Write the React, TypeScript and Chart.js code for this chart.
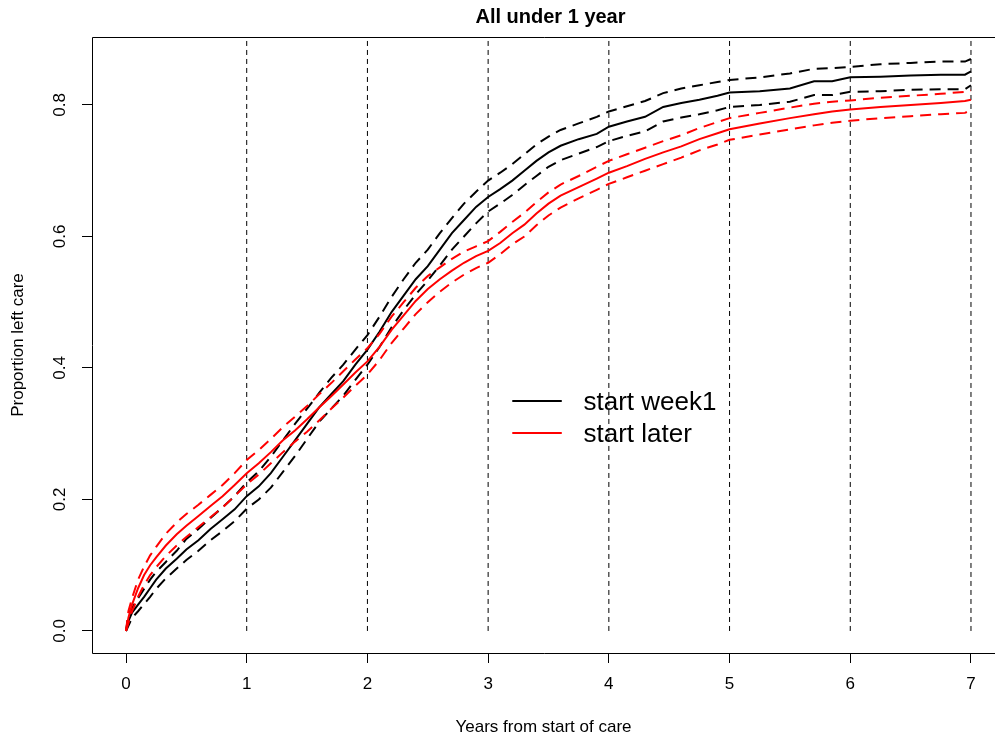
import React, { useEffect, useRef } from "react";
import { Chart, registerables } from "chart.js";

Chart.register(...registerables);

// ---------- data ----------
const TIMES = [
  0, 0.02, 0.05, 0.1, 0.15, 0.2, 0.25, 0.33, 0.42,
  0.5, 0.6, 0.7, 0.8, 0.9,
  1.0, 1.1, 1.2, 1.3, 1.4, 1.5, 1.6, 1.7, 1.8, 1.9,
  2.0, 2.1, 2.2, 2.3, 2.4, 2.5, 2.6, 2.7, 2.8, 2.9,
  3.0, 3.1, 3.2, 3.3, 3.4, 3.5, 3.6,
  3.75, 3.9,
  4.0, 4.15, 4.3, 4.45, 4.6, 4.75, 4.9,
  5.0, 5.25, 5.5, 5.7, 5.85,
  6.0, 6.25, 6.5, 6.75, 6.95, 7.0,
];

const WEEK1 = [
  0, 0.015, 0.028, 0.04, 0.052, 0.065, 0.078, 0.095, 0.11,
  0.124, 0.138, 0.155, 0.17, 0.185,
  0.205, 0.22, 0.24, 0.265, 0.29, 0.315, 0.34, 0.36, 0.38, 0.405,
  0.428, 0.455, 0.485, 0.51, 0.535, 0.555, 0.58, 0.605, 0.625, 0.645,
  0.66, 0.672, 0.685, 0.7, 0.715, 0.728, 0.738,
  0.748, 0.756,
  0.767, 0.775, 0.782, 0.797, 0.803, 0.808, 0.814,
  0.819, 0.821, 0.825, 0.836, 0.836,
  0.842, 0.843, 0.845, 0.846, 0.846, 0.851,
];

const WEEK1_UPPER = [
  0, 0.025, 0.035, 0.05, 0.064, 0.078, 0.09, 0.105, 0.122,
  0.14, 0.155, 0.172, 0.188, 0.205,
  0.226, 0.243, 0.265, 0.29, 0.315, 0.338, 0.362, 0.385, 0.405, 0.428,
  0.45, 0.478, 0.508, 0.535, 0.56, 0.58, 0.605, 0.628, 0.65, 0.668,
  0.685, 0.697, 0.71, 0.725, 0.74, 0.752, 0.762,
  0.772, 0.782,
  0.79, 0.798, 0.806, 0.818, 0.825, 0.83, 0.835,
  0.838, 0.842, 0.848, 0.855, 0.856,
  0.858, 0.862, 0.864, 0.866, 0.866, 0.87,
];

const WEEK1_LOWER = [
  0, 0.008, 0.02, 0.03, 0.041, 0.052, 0.064, 0.08, 0.095,
  0.108, 0.122, 0.138, 0.152, 0.167,
  0.186, 0.2, 0.218, 0.242, 0.266, 0.292, 0.318, 0.338, 0.358, 0.382,
  0.405, 0.432, 0.462, 0.488, 0.512, 0.533, 0.556, 0.58, 0.6, 0.62,
  0.638, 0.65, 0.663, 0.678, 0.692, 0.706, 0.716,
  0.726, 0.736,
  0.745, 0.753, 0.76, 0.775, 0.781, 0.786, 0.792,
  0.797, 0.8, 0.805, 0.815, 0.815,
  0.82, 0.821, 0.823, 0.824, 0.824, 0.83,
];

const LATER = [
  0, 0.02, 0.04, 0.065, 0.085, 0.1, 0.112, 0.13, 0.147,
  0.16, 0.175, 0.19, 0.205, 0.222,
  0.24, 0.255, 0.272, 0.29, 0.305, 0.322, 0.34, 0.357, 0.375, 0.393,
  0.41, 0.432, 0.458, 0.48, 0.502, 0.52, 0.535, 0.548, 0.56, 0.57,
  0.578, 0.59, 0.605, 0.618, 0.635, 0.65, 0.662,
  0.675, 0.688,
  0.697, 0.707, 0.718, 0.728, 0.737, 0.748, 0.757,
  0.763, 0.772, 0.78, 0.786, 0.79,
  0.793, 0.797, 0.8, 0.803, 0.806, 0.808,
];

const LATER_UPPER = [
  0, 0.03, 0.05, 0.078, 0.098, 0.115, 0.128, 0.148, 0.165,
  0.178, 0.192, 0.207, 0.222, 0.24,
  0.26, 0.275, 0.292, 0.31, 0.326, 0.342, 0.36, 0.377, 0.395, 0.413,
  0.43, 0.452, 0.478, 0.5, 0.522, 0.54, 0.553, 0.566, 0.577, 0.585,
  0.593, 0.607, 0.622, 0.636, 0.652, 0.667, 0.679,
  0.692, 0.706,
  0.715, 0.725, 0.735, 0.745, 0.754, 0.765, 0.774,
  0.78, 0.788, 0.796, 0.802, 0.805,
  0.807, 0.811, 0.814, 0.817, 0.82, 0.822,
];

const LATER_LOWER = [
  0, 0.012, 0.03, 0.052, 0.07, 0.085, 0.097, 0.114, 0.13,
  0.143, 0.158, 0.173, 0.188, 0.205,
  0.223, 0.238, 0.255, 0.272, 0.288, 0.303, 0.32, 0.338, 0.355, 0.373,
  0.39, 0.412, 0.438, 0.46, 0.482, 0.5, 0.516, 0.53, 0.542, 0.552,
  0.56, 0.573, 0.588, 0.6, 0.617, 0.632, 0.644,
  0.658, 0.671,
  0.68, 0.69, 0.7, 0.71, 0.72, 0.731, 0.74,
  0.747, 0.755, 0.763, 0.769, 0.773,
  0.776, 0.78, 0.783, 0.786, 0.788, 0.792,
];

const X_TICKS = [0, 1, 2, 3, 4, 5, 6, 7];
const Y_TICKS = [0, 0.2, 0.4, 0.6, 0.8];
const REF_LINES = [1, 2, 3, 4, 5, 6, 7];
const SERIES_LABELS = ["start week1", "start later"];
const SERIES_COLORS = ["#000000", "#ff0000"];

const TITLE = "All under 1 year";
const X_TITLE = "Years from start of care";
const Y_TITLE = "Proportion left care";

// visible axis window (the plot region runs past the right edge of the image)
const X_MIN = -0.2817;
const X_MAX = 7.199;
const Y_MIN = -0.0335;
const Y_MAX = 0.9034;

const FONT = "'Liberation Sans', Arial, Helvetica, sans-serif";

export default function App() {
  const ref = useRef<HTMLCanvasElement | null>(null);

  useEffect(() => {
    if (!ref.current) return;
    const pts = (ys: number[]) => TIMES.map((t, i) => ({ x: t, y: ys[i] }));
    const curve = (ys: number[], color: string, dashed: boolean) => ({
      data: pts(ys),
      borderColor: color,
      backgroundColor: color,
      borderWidth: 2,
      borderDash: dashed ? [11, 7] : [],
      pointRadius: 0,
      fill: false,
      tension: 0,
    });

    const refDatasets = REF_LINES.map((v) => ({
      data: [
        { x: v, y: 0 },
        { x: v, y: Y_MAX },
      ],
      borderColor: "#000",
      borderWidth: 1,
      borderDash: [5, 4],
      pointRadius: 0,
      fill: false,
    }));

    // plot frame: left, top and bottom sides (the right side lies outside the image)
    const boxPlugin = {
      id: "rBox",
      afterDraw(chart: any) {
        const { ctx, chartArea } = chart;
        ctx.save();
        ctx.strokeStyle = "#000";
        ctx.lineWidth = 1;
        ctx.setLineDash([]);
        const l = Math.round(chartArea.left) + 0.5;
        const t = Math.round(chartArea.top) + 0.5;
        const r = chart.width + 2;
        const b = Math.round(chartArea.bottom) + 0.5;
        ctx.beginPath();
        ctx.moveTo(r, t);
        ctx.lineTo(l, t);
        ctx.lineTo(l, b);
        ctx.lineTo(r, b);
        ctx.stroke();
        ctx.restore();
      },
    };

    const legendPlugin = {
      id: "rLegend",
      afterDatasetsDraw(chart: any) {
        const { ctx, scales } = chart;
        const xs = scales.x;
        const ys = scales.y;
        const x0 = xs.getPixelForValue(3.2);
        const x1 = xs.getPixelForValue(3.61);
        const xt = xs.getPixelForValue(3.79);
        const y0 = ys.getPixelForValue(0.35);
        const rowH = ys.getPixelForValue(0.35) - ys.getPixelForValue(0.35 + 0.049);
        ctx.save();
        ctx.font = `26px ${FONT}`;
        ctx.textBaseline = "middle";
        ctx.textAlign = "left";
        SERIES_LABELS.forEach((lab, i) => {
          const yy = Math.round(y0 + i * rowH);
          ctx.strokeStyle = SERIES_COLORS[i];
          ctx.lineWidth = 2;
          ctx.setLineDash([]);
          ctx.beginPath();
          ctx.moveTo(x0, yy);
          ctx.lineTo(x1, yy);
          ctx.stroke();
          ctx.fillStyle = "#000";
          ctx.fillText(lab, xt, yy + 2);
        });
        ctx.restore();
      },
    };

    // centre the title over the whole plot region, which reaches past the image edge
    const titleShift = {
      id: "titleShift",
      afterLayout(chart: any) {
        const t = chart.titleBlock;
        if (t) {
          t.left += 7;
          t.right += 7;
        }
      },
    };

    const chart = new Chart(ref.current, {
      type: "line",
      data: {
        datasets: [
          curve(LATER, SERIES_COLORS[1], false),
          curve(LATER_UPPER, SERIES_COLORS[1], true),
          curve(LATER_LOWER, SERIES_COLORS[1], true),
          curve(WEEK1, SERIES_COLORS[0], false),
          curve(WEEK1_UPPER, SERIES_COLORS[0], true),
          curve(WEEK1_LOWER, SERIES_COLORS[0], true),
          ...refDatasets,
        ] as any,
      },
      options: {
        responsive: false,
        animation: false,
        devicePixelRatio: 1,
        layout: { padding: 0 },
        plugins: {
          legend: { display: false },
          tooltip: { enabled: false },
          title: {
            display: true,
            text: TITLE,
            color: "#000",
            fullSize: false,
            align: "center",
            font: { family: FONT, size: 20, weight: "bold" },
            padding: { top: 5, bottom: 8 },
          },
        },
        scales: {
          x: {
            type: "linear",
            min: X_MIN,
            max: X_MAX,
            afterBuildTicks: (s: any) => {
              s.ticks = X_TICKS.map((v) => ({ value: v }));
            },
            afterFit: (s: any) => {
              s.height = 87;
            },
            grid: {
              display: true,
              drawOnChartArea: false,
              drawTicks: true,
              tickLength: 10,
              color: "#000",
              tickColor: "#000",
              tickWidth: 1,
            },
            border: { display: false },
            ticks: {
              color: "#000",
              font: { family: FONT, size: 17 },
              padding: 11,
              maxRotation: 0,
              minRotation: 0,
              autoSkip: false,
              callback: (v: any) => String(v),
            },
            title: {
              display: true,
              text: X_TITLE,
              color: "#000",
              font: { family: FONT, size: 17 },
              padding: { top: 0, bottom: 2 },
            },
          },
          y: {
            type: "linear",
            min: Y_MIN,
            max: Y_MAX,
            afterBuildTicks: (s: any) => {
              s.ticks = Y_TICKS.map((v) => ({ value: v }));
            },
            afterFit: (s: any) => {
              s.width = 92;
            },
            grid: {
              display: true,
              drawOnChartArea: false,
              drawTicks: true,
              tickLength: 10,
              color: "#000",
              tickColor: "#000",
              tickWidth: 1,
            },
            border: { display: false },
            ticks: {
              color: "#000",
              font: { family: FONT, size: 17 },
              padding: 10,
              minRotation: 90,
              maxRotation: 90,
              crossAlign: "center",
              autoSkip: false,
              callback: (v: any) => Number(v).toFixed(1),
            },
            title: {
              display: true,
              text: Y_TITLE,
              color: "#000",
              font: { family: FONT, size: 17 },
              padding: { top: 8, bottom: 0 },
            },
          },
        },
      } as any,
      plugins: [boxPlugin, legendPlugin, titleShift],
    });

    return () => chart.destroy();
  }, []);

  return (
    <div
      style={{
        position: "fixed",
        left: 0,
        top: 0,
        width: 995,
        height: 740,
        overflow: "hidden",
        background: "#fff",
      }}
    >
      <canvas ref={ref} width={995} height={740} style={{ display: "block" }} />
    </div>
  );
}
